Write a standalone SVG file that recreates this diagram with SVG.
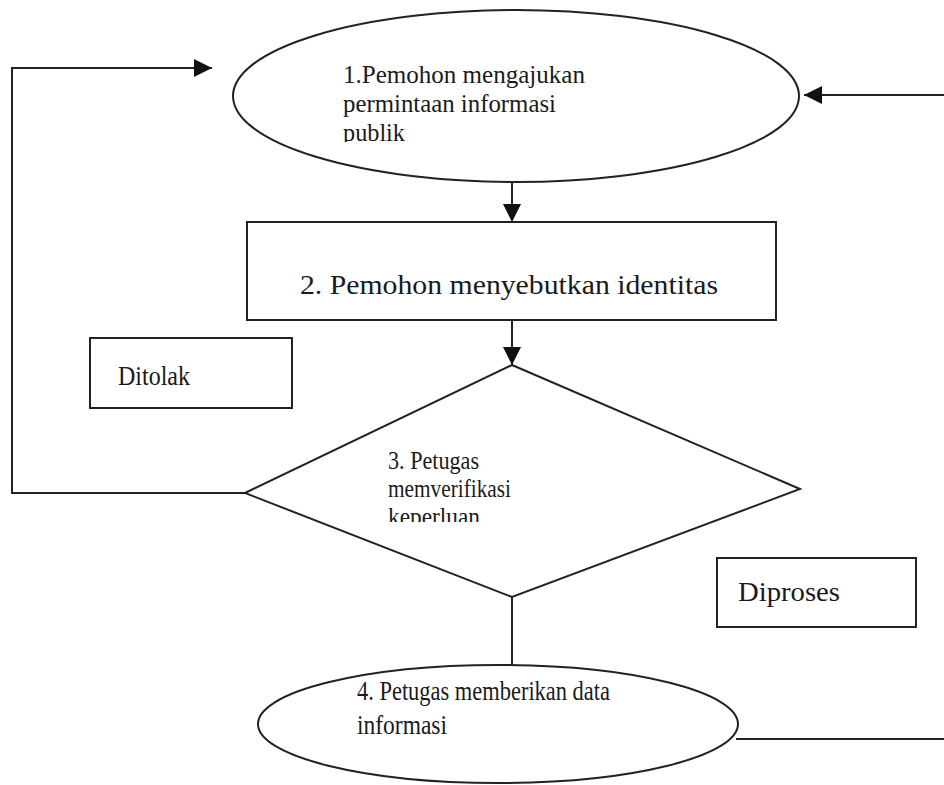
<svg xmlns="http://www.w3.org/2000/svg" width="944" height="785" viewBox="0 0 944 785">
<style>
.s{fill:#fff;stroke:#222;stroke-width:2}
.l{fill:none;stroke:#222;stroke-width:2}
.t{font-family:"Liberation Serif","Times New Roman",serif;font-size:28px;fill:#1a1a1a}
.m{font-family:"Liberation Serif","Times New Roman",serif;font-size:25px;fill:#1a1a1a}
</style>
<defs>
<marker id="ahb" viewBox="0 0 10 10" refX="10" refY="5" markerWidth="20" markerHeight="18" markerUnits="userSpaceOnUse" orient="auto">
<path d="M0,0 L10,5 L0,10 z" fill="#111"/>
</marker>
<clipPath id="c1"><rect x="300" y="40" width="320" height="102"/></clipPath>
<clipPath id="c3"><rect x="370" y="440" width="160" height="82"/></clipPath>
</defs>
<rect width="944" height="785" fill="#fff"/>
<g id="connectors">
<path class="l" d="M245,493 L12,493 L12,68 L212,68" marker-end="url(#ahb)"/>
<path class="l" d="M944,95 L804,95" marker-end="url(#ahb)"/>
<path class="l" d="M512,183 L512,222" marker-end="url(#ahb)"/>
<path class="l" d="M512,320 L512,365" marker-end="url(#ahb)"/>
<path class="l" d="M512,597 L512,665"/>
<path class="l" d="M736,739 L944,739"/>
</g>
<g id="node1">
<ellipse class="s" cx="516" cy="96" rx="283" ry="86"/>
<g clip-path="url(#c1)">
<text class="m" x="343" y="83" textLength="242" lengthAdjust="spacingAndGlyphs">1.Pemohon mengajukan</text>
<text class="m" x="343" y="112" textLength="213" lengthAdjust="spacingAndGlyphs">permintaan informasi</text>
<text class="m" x="343" y="141" textLength="62" lengthAdjust="spacingAndGlyphs">publik</text>
</g>
</g>
<g id="node2">
<rect class="s" x="247" y="222" width="529" height="98"/>
<text class="t" x="300" y="294" textLength="418" lengthAdjust="spacingAndGlyphs">2. Pemohon menyebutkan identitas</text>
</g>
<g id="label-ditolak">
<rect class="s" x="90" y="338" width="202" height="70"/>
<text class="t" x="118" y="385" textLength="72" lengthAdjust="spacingAndGlyphs">Ditolak</text>
</g>
<g id="node3">
<polygon class="s" points="512,365 800,489 512,597 245,493"/>
<g clip-path="url(#c3)">
<text class="m" x="388" y="469" textLength="91" lengthAdjust="spacingAndGlyphs">3. Petugas</text>
<text class="m" x="388" y="497" textLength="123" lengthAdjust="spacingAndGlyphs">memverifikasi</text>
<text class="m" x="388" y="525" textLength="92" lengthAdjust="spacingAndGlyphs">keperluan</text>
</g>
</g>
<g id="label-diproses">
<rect class="s" x="717" y="558" width="199" height="69"/>
<text class="t" x="738" y="601" textLength="102" lengthAdjust="spacingAndGlyphs">Diproses</text>
</g>
<g id="node4">
<ellipse class="s" cx="498" cy="724" rx="240" ry="59"/>
<text class="t" x="357" y="700" textLength="253" lengthAdjust="spacingAndGlyphs">4. Petugas memberikan data</text>
<text class="t" x="357" y="734" textLength="90" lengthAdjust="spacingAndGlyphs">informasi</text>
</g>
</svg>
